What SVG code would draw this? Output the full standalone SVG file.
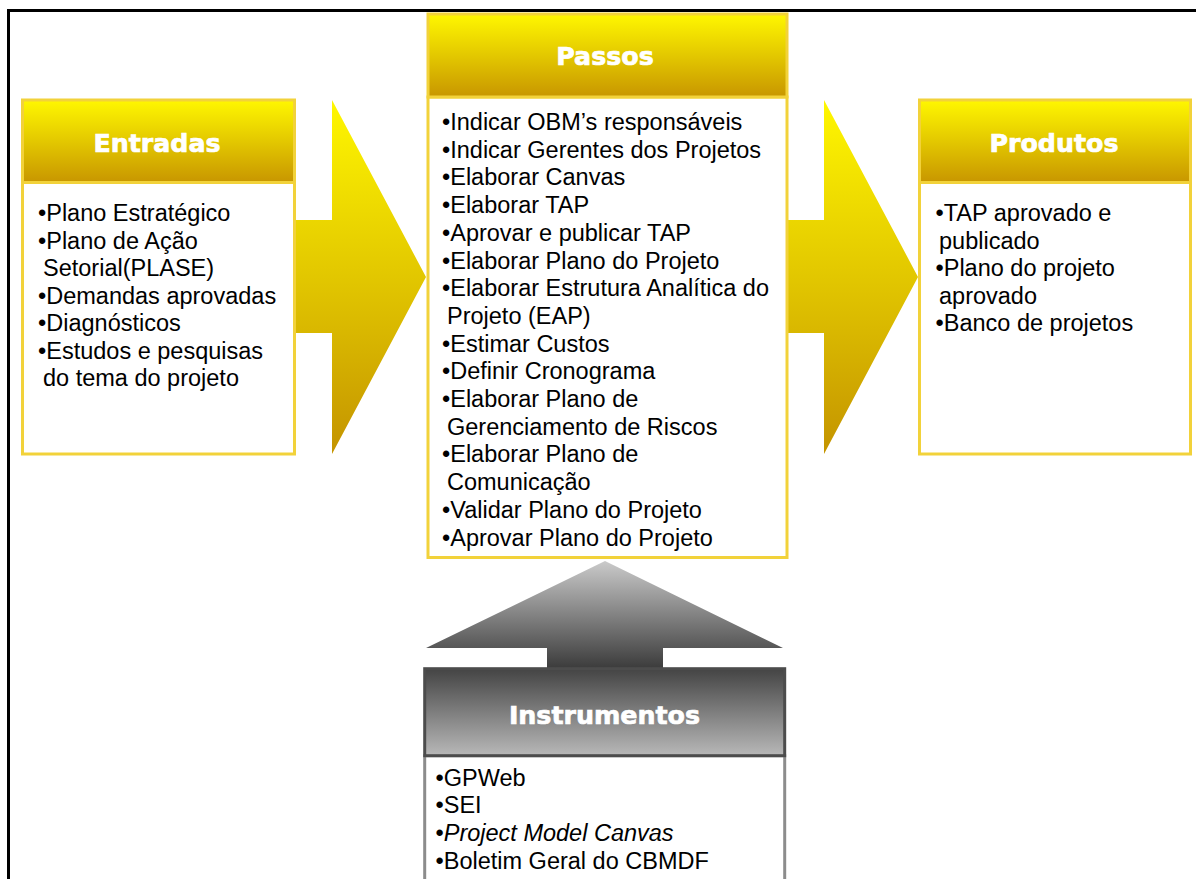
<svg xmlns="http://www.w3.org/2000/svg" width="1196" height="879" viewBox="0 0 1196 879">
<defs>
<linearGradient id="gHead" x1="0" y1="0" x2="0" y2="1">
<stop offset="0" stop-color="#fff700"/>
<stop offset="0.5" stop-color="#e3c800"/>
<stop offset="1" stop-color="#c89600"/>
</linearGradient>
<linearGradient id="gArrow" gradientUnits="userSpaceOnUse" x1="0" y1="100" x2="0" y2="454">
<stop offset="0" stop-color="#fff700"/>
<stop offset="0.5" stop-color="#e2c700"/>
<stop offset="1" stop-color="#c49400"/>
</linearGradient>
<linearGradient id="gGrayArrow" gradientUnits="userSpaceOnUse" x1="0" y1="561" x2="0" y2="668">
<stop offset="0" stop-color="#cacaca"/>
<stop offset="1" stop-color="#3c3c3c"/>
</linearGradient>
<linearGradient id="gGrayHead" x1="0" y1="0" x2="0" y2="1">
<stop offset="0" stop-color="#444444"/>
<stop offset="1" stop-color="#b8b8b8"/>
</linearGradient>
</defs>
<style>
.hd{fill:url(#gHead);stroke:#f2d23a;stroke-width:3}
.bd{fill:#ffffff;stroke:#f2d23a;stroke-width:3}
.ghd{fill:url(#gGrayHead);stroke:#4c4c4c;stroke-width:3}
.gbd{fill:#ffffff;stroke:#8c8c8c;stroke-width:3}
.ttl{font-family:"DejaVu Sans",sans-serif;font-weight:bold;font-size:25.3px;fill:#ffffff;stroke:#ffffff;stroke-width:0.7;text-anchor:middle}
.tx{font-family:"Liberation Sans",Arial,sans-serif;font-size:23.5px;fill:#000000}
.it{font-style:italic}
</style>
<rect x="0" y="0" width="1196" height="879" fill="#ffffff"/>
<path d="M8.5,879 V10.5 H1196" fill="none" stroke="#000000" stroke-width="3"/>
<g id="connectors">
<polygon points="294,220 332,220 332,100 426,277 332,454 332,333 294,333" fill="url(#gArrow)"/>
<polygon points="786,220 824,220 824,100 918,277 824,454 824,333 786,333" fill="url(#gArrow)"/>
<polygon points="605,561 783,648 663,648 663,670 547,670 547,648 426,648" fill="url(#gGrayArrow)"/>
</g>
<g id="entradas">
<rect class="bd" x="22.5" y="182.5" width="272" height="271.5"/>
<rect class="hd" x="22.5" y="100" width="272" height="82.5"/>
<text class="ttl" x="157" y="152">Entradas</text>
<text class="tx" x="38" y="221">•Plano Estratégico</text>
<text class="tx" x="38" y="248.5">•Plano de Ação</text>
<text class="tx" x="43" y="276">Setorial(PLASE)</text>
<text class="tx" x="38" y="303.5">•Demandas aprovadas</text>
<text class="tx" x="38" y="331">•Diagnósticos</text>
<text class="tx" x="38" y="358.5">•Estudos e pesquisas</text>
<text class="tx" x="43" y="386">do tema do projeto</text>
</g>
<g id="passos">
<rect class="bd" x="428" y="97" width="359" height="460.5"/>
<rect class="hd" x="428" y="14" width="359" height="83"/>
<text class="ttl" x="605" y="65">Passos</text>
<text class="tx" x="442" y="130">•Indicar OBM’s responsáveis</text>
<text class="tx" x="442" y="157.7">•Indicar Gerentes dos Projetos</text>
<text class="tx" x="442" y="185.4">•Elaborar Canvas</text>
<text class="tx" x="442" y="213.1">•Elaborar TAP</text>
<text class="tx" x="442" y="240.8">•Aprovar e publicar TAP</text>
<text class="tx" x="442" y="268.5">•Elaborar Plano do Projeto</text>
<text class="tx" x="442" y="296.2">•Elaborar Estrutura Analítica do</text>
<text class="tx" x="447" y="323.9">Projeto (EAP)</text>
<text class="tx" x="442" y="351.6">•Estimar Custos</text>
<text class="tx" x="442" y="379.3">•Definir Cronograma</text>
<text class="tx" x="442" y="407">•Elaborar Plano de</text>
<text class="tx" x="447" y="434.7">Gerenciamento de Riscos</text>
<text class="tx" x="442" y="462.4">•Elaborar Plano de</text>
<text class="tx" x="447" y="490.1">Comunicação</text>
<text class="tx" x="442" y="517.8">•Validar Plano do Projeto</text>
<text class="tx" x="442" y="545.5">•Aprovar Plano do Projeto</text>
</g>
<g id="produtos">
<rect class="bd" x="919.5" y="182.5" width="271" height="271.5"/>
<rect class="hd" x="919.5" y="100" width="271" height="82.5"/>
<text class="ttl" x="1054" y="152">Produtos</text>
<text class="tx" x="935.5" y="221">•TAP aprovado e</text>
<text class="tx" x="939" y="248.5">publicado</text>
<text class="tx" x="935.5" y="276">•Plano do projeto</text>
<text class="tx" x="939" y="303.5">aprovado</text>
<text class="tx" x="935.5" y="331">•Banco de projetos</text>
</g>
<g id="instrumentos">
<rect class="gbd" x="424.7" y="755.7" width="360" height="130"/>
<rect class="ghd" x="424.7" y="668.7" width="360" height="87"/>
<text class="ttl" x="604.5" y="724">Instrumentos</text>
<text class="tx" x="435.5" y="785.5">•GPWeb</text>
<text class="tx" x="435.5" y="813.2">•SEI</text>
<text class="tx" x="435.5" y="840.9">•<tspan class="it">Project Model Canvas</tspan></text>
<text class="tx" x="435.5" y="868.6">•Boletim Geral do CBMDF</text>
</g>
</svg>
